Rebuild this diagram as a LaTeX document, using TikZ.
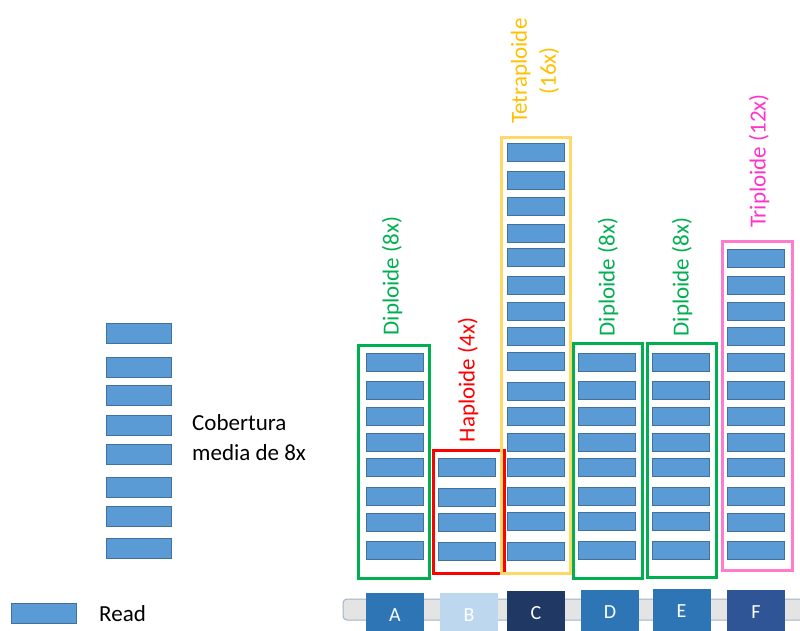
\documentclass[tikz,border=0pt]{standalone}
\usepackage{fontspec}
\setmainfont{Carlito}
\definecolor{readfill}{HTML}{5B9BD5}
\definecolor{readline}{HTML}{41719C}
\definecolor{diplo}{HTML}{00B050}
\definecolor{haplo}{HTML}{FF0000}
\definecolor{tetrabox}{HTML}{FFD966}
\definecolor{tetratext}{HTML}{FFC000}
\definecolor{tribox}{HTML}{FF7BCB}
\definecolor{tritext}{HTML}{FF33CC}
\definecolor{barfill}{HTML}{E4E4E4}
\definecolor{barline}{HTML}{9FB3CA}
\definecolor{segA}{HTML}{2E75B6}
\definecolor{segB}{HTML}{BDD7EE}
\definecolor{segC}{HTML}{1F3864}
\definecolor{segF}{HTML}{2F5597}
\tikzset{
  readbox/.style={rectangle, draw=readline, fill=readfill, line width=0.8pt,
    minimum width=57pt, minimum height=18pt, inner sep=0pt},
  legendread/.style={readbox, minimum width=65pt, minimum height=20pt},
  ploidybox/.style={rectangle, draw=#1, line width=3pt, inner sep=0pt},
  ploidylabel/.style={text=#1, rotate=90, inner sep=0pt, font=\fontsize{23}{29}\selectfont, align=center},
  segment/.style={rectangle, fill=#1, minimum width=58pt, minimum height=44pt, inner sep=0pt,
    text=white, font=\fontsize{20}{24}\selectfont},
  plain/.style={inner sep=0pt, font=\fontsize{23}{30}\selectfont, align=left}
}
\begin{document}
\begin{tikzpicture}[x=1pt,y=-1pt]
\useasboundingbox (0,0) rectangle (800,630);
\clip (0,0) rectangle (800,630);

% legend column of reads
\foreach \t [count=\i] in {323,357,385,415,444,477,506,538}
  \node[legendread] (L\i) at (138.5,\t+10) {};
\node[plain, anchor=west] (cov) at (192,438) {Cobertura\\media de 8x};

% single read key
\node[legendread] (key) at (43.5,613.5) {};
\node[plain, anchor=west] (keytext) at (99,614) {Read};

% ploidy frames
\node[ploidybox=diplo, minimum width=71pt, minimum height=233pt] (boxA) at (393.5,461.5) {};
\node[ploidybox=haplo, minimum width=71pt, minimum height=123pt] (boxB) at (468.5,511.5) {};
\node[ploidybox=tetrabox, minimum width=69pt, minimum height=436pt] (boxC) at (535.5,355) {};
\node[ploidybox=diplo, minimum width=69pt, minimum height=235pt] (boxD) at (607.5,460.5) {};
\node[ploidybox=diplo, minimum width=69pt, minimum height=234pt] (boxE) at (681.5,460) {};
\node[ploidybox=tribox, minimum width=70pt, minimum height=329pt] (boxF) at (757,405.5) {};

% reads in each region
\foreach \t [count=\i] in {353,381,407,433,458,487,513,541}
  \node[readbox] (A\i) at (394.5,\t+9) {};
\foreach \t [count=\i] in {458,488,513,542}
  \node[readbox] (B\i) at (467,\t+9) {};
\foreach \t [count=\i] in {143,171,197,224,248,276,302,327,352,382,407,433,458,487,512,542}
  \node[readbox] (C\i) at (535.5,\t+9) {};
\foreach \t [count=\i] in {353,381,407,433,458,487,512,541}
  \node[readbox] (D\i) at (606.5,\t+9) {};
\foreach \t [count=\i] in {353,381,407,433,458,487,512,541}
  \node[readbox] (E\i) at (680.5,\t+9) {};
\foreach \t [count=\i] in {249,276,302,327,353,381,407,433,458,487,513,541}
  \node[readbox] (F\i) at (755.5,\t+9) {};

% ploidy labels
\node[ploidylabel=diplo] (labA) at (392,276) {Diploide (8x)};
\node[ploidylabel=haplo] (labB) at (468,380) {Haploide (4x)};
\node[ploidylabel=tetratext] (labC) at (535,71) {Tetraploide\\(16x)};
\node[ploidylabel=diplo] (labD) at (608,277) {Diploide (8x)};
\node[ploidylabel=diplo] (labE) at (682,277) {Diploide (8x)};
\node[ploidylabel=tritext] (labF) at (759,161) {Triploide (12x)};

% chromosome bar with segments
\draw[fill=barfill, draw=barline, line width=1pt, rounded corners=4pt] (343,599) rectangle (830,620);
\node[segment=segA] (sA) at (395,615) {A};
\node[segment=segB] (sB) at (469,615) {B};
\node[segment=segC] (sC) at (536,613) {C};
\node[segment=segA] (sD) at (610,612) {D};
\node[segment=segA] (sE) at (681.5,611) {E};
\node[segment=segF] (sF) at (756,612) {F};
\end{tikzpicture}
\end{document}
